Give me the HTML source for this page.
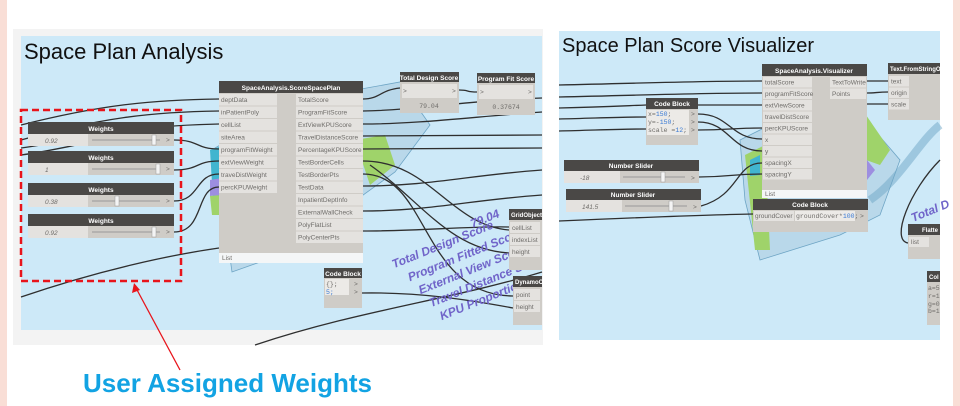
<!DOCTYPE html>
<html><head><meta charset="utf-8"><style>
html,body{margin:0;padding:0;background:#fff;}
body{width:960px;height:406px;overflow:hidden;position:relative;font-family:"Liberation Sans",sans-serif;}
svg{position:absolute;left:0;top:0;}
.h{fill:#4a4846}
.ht{fill:#fff;font-size:6.5px;font-weight:bold;text-anchor:middle}
.b{fill:#cfccc7}
.p{fill:#e4e2df}
.pt{fill:#6f6d6a;font-size:6.5px}
.w{fill:none;stroke:#2f2f2f;stroke-width:1.3}
.pl{fill:#7064c9;font-size:12px;font-weight:bold;font-style:italic}
</style></head><body>
<svg width="960" height="406" viewBox="0 0 960 406">
<rect x="0" y="0" width="7" height="406" fill="#f9ded6"/>
<rect x="953" y="0" width="7" height="406" fill="#f9ded6"/>

<g>
<rect x="13" y="29" width="530" height="316" fill="#f3f3f3"/>
<rect x="21" y="36" width="521" height="294" fill="#cde9f8"/>
<text x="24" y="59" font-size="22" fill="#111">Space Plan Analysis</text>
<g>
<polygon points="215,148 300,100 400,82 430,125 395,172 280,255 232,272" fill="#b9d8ea" stroke="#6ea5c5" stroke-width="0.8"/>
<polygon points="355,140 385,135 395,165 370,185" fill="#9fd36a"/>
<polygon points="210,150 225,145 228,200 213,200" fill="#41b5cf"/>
<polygon points="210,180 222,178 222,195 210,196" fill="#9d8ee0"/>
<polygon points="210,196 222,195 225,215 212,215" fill="#9fd36a"/>
</g>
<g>
<path class="w" d="M21,125 C100,105 150,100 219,99"/>
<path class="w" d="M21,140 C100,118 150,112 219,111"/>
<path class="w" d="M21,148 C80,140 120,126 219,124"/>
<path class="w" d="M21,155 C60,150 100,138 130,137"/>
<path class="w" d="M174,140 C200,140 195,149 219,149"/>
<path class="w" d="M174,170 C200,170 195,161 219,161"/>
<path class="w" d="M174,201 C200,201 195,174 219,174"/>
<path class="w" d="M174,232 C205,232 195,187 219,187"/>
<path class="w" d="M21,297 C100,270 170,255 219,248"/>
<path class="w" d="M255,345 C360,310 450,300 542,272"/>
<path class="w" d="M363,99 C380,99 380,90 400,88"/>
<path class="w" d="M459,90 C470,90 465,92 477,92"/>
<path class="w" d="M363,111 C420,110 470,100 542,98"/>
<path class="w" d="M363,124 C420,124 480,116 542,112"/>
<path class="w" d="M363,136 C420,136 480,135 542,135"/>
<path class="w" d="M363,149 C420,149 480,148 542,148"/>
<path class="w" d="M363,161 C430,161 450,225 509,230"/>
<path class="w" d="M363,174 C430,174 420,295 513,296"/>
<path class="w" d="M363,186 C430,186 470,175 542,170"/>
<path class="w" d="M363,211 C430,211 470,200 542,195"/>
<path class="w" d="M363,231 C420,231 470,226 509,227"/>
<path class="w" d="M362,293 C420,292 470,300 513,308"/>
<path class="w" d="M370,165 C420,200 450,250 509,253"/>
</g>
<g transform="rotate(-22 470 270)">
<text class="pl" x="400" y="240">Total Design Score</text>
<text class="pl" x="488" y="232">79.04</text>
<text class="pl" x="410" y="258">Program Fitted Score</text>
<text class="pl" x="415" y="274">External View Score</text>
<text class="pl" x="420" y="290">Travel Distance S</text>
<text class="pl" x="425" y="306">KPU Proportion</text>
</g>
<g>
<rect x="219" y="81" width="144" height="182" class="b"/>
<rect x="219" y="81" width="144" height="12" class="h"/>
<text x="291" y="90" class="ht">SpaceAnalysis.ScoreSpacePlan</text>
<g>
<rect x="219" y="94" width="58" height="11.5" class="p"/><text x="221" y="102" class="pt">deptData</text>
<rect x="219" y="106.5" width="58" height="11.5" class="p"/><text x="221" y="114.5" class="pt">inPatientPoly</text>
<rect x="219" y="119" width="58" height="11.5" class="p"/><text x="221" y="127" class="pt">cellList</text>
<rect x="219" y="131.5" width="58" height="11.5" class="p"/><text x="221" y="139.5" class="pt">siteArea</text>
<rect x="219" y="144" width="58" height="11.5" class="p"/><text x="221" y="152" class="pt">programFitWeight</text>
<rect x="219" y="156.5" width="58" height="11.5" class="p"/><text x="221" y="164.5" class="pt">extViewWeight</text>
<rect x="219" y="169" width="58" height="11.5" class="p"/><text x="221" y="177" class="pt">traveDistWeight</text>
<rect x="219" y="181.5" width="58" height="11.5" class="p"/><text x="221" y="189.5" class="pt">percKPUWeight</text>
</g>
<g>
<rect x="296" y="94" width="67" height="11.5" class="p"/><text x="298" y="102" class="pt">TotalScore</text>
<rect x="296" y="106.5" width="67" height="11.5" class="p"/><text x="298" y="114.5" class="pt">ProgramFitScore</text>
<rect x="296" y="119" width="67" height="11.5" class="p"/><text x="298" y="127" class="pt">ExtViewKPUScore</text>
<rect x="296" y="131.5" width="67" height="11.5" class="p"/><text x="298" y="139.5" class="pt">TravelDistanceScore</text>
<rect x="296" y="144" width="67" height="11.5" class="p"/><text x="298" y="152" class="pt">PercentageKPUScore</text>
<rect x="296" y="156.5" width="67" height="11.5" class="p"/><text x="298" y="164.5" class="pt">TestBorderCells</text>
<rect x="296" y="169" width="67" height="11.5" class="p"/><text x="298" y="177" class="pt">TestBorderPts</text>
<rect x="296" y="181.5" width="67" height="11.5" class="p"/><text x="298" y="189.5" class="pt">TestData</text>
<rect x="296" y="194" width="67" height="11.5" class="p"/><text x="298" y="202" class="pt">InpatientDeptInfo</text>
<rect x="296" y="206.5" width="67" height="11.5" class="p"/><text x="298" y="214.5" class="pt">ExternalWallCheck</text>
<rect x="296" y="219" width="67" height="11.5" class="p"/><text x="298" y="227" class="pt">PolyFlatList</text>
<rect x="296" y="231.5" width="67" height="11.5" class="p"/><text x="298" y="239.5" class="pt">PolyCenterPts</text>
</g>
<rect x="219" y="253" width="144" height="10" fill="#f4f6f7"/><text x="222" y="260" class="pt" font-size="5.5">List</text>
</g>
<g>
<rect x="28" y="122" width="146" height="12" class="h"/><text x="101" y="131" class="ht">Weights</text>
<rect x="28" y="134" width="146" height="12" class="b"/><rect x="28" y="134" width="60" height="12" class="p"/>
<text x="45" y="143" class="pt" font-style="italic">0.92</text>
<line x1="92" y1="140" x2="160" y2="140" stroke="#999"/><rect x="152" y="135" width="4" height="10" fill="#f4f4f4" stroke="#999" stroke-width=".5"/>
<text x="166" y="142" class="pt">&gt;</text></g>
<g>
<rect x="28" y="151" width="146" height="12" class="h"/><text x="101" y="160" class="ht">Weights</text>
<rect x="28" y="163" width="146" height="12" class="b"/><rect x="28" y="163" width="60" height="12" class="p"/>
<text x="45" y="172" class="pt" font-style="italic">1</text>
<line x1="92" y1="169" x2="160" y2="169" stroke="#999"/><rect x="156" y="164" width="4" height="10" fill="#f4f4f4" stroke="#999" stroke-width=".5"/>
<text x="166" y="171" class="pt">&gt;</text></g>
<g>
<rect x="28" y="183" width="146" height="12" class="h"/><text x="101" y="192" class="ht">Weights</text>
<rect x="28" y="195" width="146" height="12" class="b"/><rect x="28" y="195" width="60" height="12" class="p"/>
<text x="45" y="204" class="pt" font-style="italic">0.38</text>
<line x1="92" y1="201" x2="160" y2="201" stroke="#999"/><rect x="115" y="196" width="4" height="10" fill="#f4f4f4" stroke="#999" stroke-width=".5"/>
<text x="166" y="203" class="pt">&gt;</text></g>
<g>
<rect x="28" y="214" width="146" height="12" class="h"/><text x="101" y="223" class="ht">Weights</text>
<rect x="28" y="226" width="146" height="12" class="b"/><rect x="28" y="226" width="60" height="12" class="p"/>
<text x="45" y="235" class="pt" font-style="italic">0.92</text>
<line x1="92" y1="232" x2="160" y2="232" stroke="#999"/><rect x="152" y="227" width="4" height="10" fill="#f4f4f4" stroke="#999" stroke-width=".5"/>
<text x="166" y="234" class="pt">&gt;</text></g>
<g>
<rect x="400" y="72" width="59" height="41" class="b"/><rect x="400" y="72" width="59" height="10" class="h"/>
<text x="429" y="80" class="ht" font-size="6">Total Design Score</text>
<rect x="402" y="84" width="55" height="14" class="p"/><text x="403" y="93" class="pt">&gt;</text><text x="452" y="93" class="pt">&gt;</text>
<text x="429" y="108" class="pt" text-anchor="middle" font-family="Liberation Mono" font-size="5.5">79.04</text></g>
<g>
<rect x="477" y="73" width="58" height="42" class="b"/><rect x="477" y="73" width="58" height="10" class="h"/>
<text x="506" y="81" class="ht" font-size="6">Program Fit Score</text>
<rect x="479" y="85" width="54" height="14" class="p"/><text x="480" y="94" class="pt">&gt;</text><text x="528" y="94" class="pt">&gt;</text>
<text x="506" y="109" class="pt" text-anchor="middle" font-family="Liberation Mono" font-size="5.5">0.37674</text></g>
<g>
<rect x="324" y="268" width="38" height="40" class="b"/><rect x="324" y="268" width="38" height="10" class="h"/>
<text x="343" y="276" class="ht" font-size="6">Code Block</text>
<rect x="325" y="279" width="24" height="16" fill="#eceae7"/>
<text x="326" y="286" class="pt" font-family="Liberation Mono">{};</text><text x="326" y="294" fill="#3a7bd5" font-size="6.5" font-family="Liberation Mono">5;</text>
<text x="354" y="286" class="pt">&gt;</text><text x="354" y="294" class="pt">&gt;</text></g>
<g>
<rect x="509" y="209" width="33" height="61" class="b"/><rect x="509" y="209" width="33" height="11" class="h"/>
<text x="511" y="217" fill="#fff" font-size="6" font-weight="bold">GridObject</text>
<rect x="510" y="222" width="30" height="11" class="p"/><text x="512" y="230" class="pt">cellList</text>
<rect x="510" y="234" width="30" height="11" class="p"/><text x="512" y="242" class="pt">indexList</text>
<rect x="510" y="246" width="30" height="11" class="p"/><text x="512" y="254" class="pt">height</text></g>
<g>
<rect x="513" y="276" width="29" height="49" class="b"/><rect x="513" y="276" width="29" height="11" class="h"/>
<text x="515" y="284" fill="#fff" font-size="6" font-weight="bold">DynamoO</text>
<rect x="514" y="289" width="26" height="11" class="p"/><text x="516" y="297" class="pt">point</text>
<rect x="514" y="301" width="26" height="11" class="p"/><text x="516" y="309" class="pt">height</text></g>
</g>
<rect x="21" y="110" width="160" height="171" fill="none" stroke="#e8141b" stroke-width="2.5" stroke-dasharray="7,4"/>
<g>
<line x1="180" y1="370" x2="136" y2="288" stroke="#e8141b" stroke-width="1.3"/>
<polygon points="134,283 132,293 140,290" fill="#e8141b"/>
</g>
<text x="83" y="392" font-size="26" font-weight="bold" fill="#12a3e3">User Assigned Weights</text>

<g>
<rect x="559" y="31" width="381" height="309" fill="#cde9f8"/>
<text x="562" y="52" font-size="20" fill="#111">Space Plan Score Visualizer</text>
<g>
<polygon points="740,140 770,125 870,125 900,160 880,215 840,235 760,260 745,200" fill="#b9d8ea" stroke="#6ea5c5" stroke-width="0.8"/>
<polygon points="745,155 765,145 770,250 755,250" fill="#9fd36a"/>
<polygon points="866,115 890,150 880,165 866,160" fill="#9fd36a"/>
<polygon points="867,160 875,170 867,180" fill="#9d8ee0"/>
<polygon points="750,160 760,155 760,175 750,176" fill="#41b5cf"/>
<path d="M870,200 C900,180 920,140 940,125" fill="none" stroke="#6ea5c5" stroke-width="8" opacity=".5"/>
</g>
<g>
<path class="w" d="M559,85 C650,83 700,81 762,81"/>
<path class="w" d="M559,97 C650,95 700,93 762,93"/>
<path class="w" d="M559,108 C600,107 620,106 646,105"/>
<path class="w" d="M559,119 C600,118 620,117 646,117"/>
<path class="w" d="M559,131 C600,130 620,129 646,129"/>
<path class="w" d="M698,105 C720,105 710,105 762,105"/>
<path class="w" d="M698,114 C730,114 730,139 762,139"/>
<path class="w" d="M698,122 C730,122 730,151 762,151"/>
<path class="w" d="M698,130 C730,130 730,128 762,128"/>
<path class="w" d="M699,177 C730,177 730,174 762,174"/>
<path class="w" d="M701,206 C740,195 735,163 762,163"/>
<path class="w" d="M559,221 C650,217 700,215 753,214"/>
<path class="w" d="M867,81 C875,81 878,81 888,81"/>
<path class="w" d="M867,93 C875,93 878,92 888,92"/>
<path class="w" d="M867,104 C875,104 878,104 888,104"/>
<path class="w" d="M940,160 C910,190 890,240 908,243"/>
</g>
<g>
<rect x="762" y="64" width="105" height="126" class="b"/><rect x="762" y="64" width="105" height="12" class="h"/>
<text x="814" y="73" class="ht">SpaceAnalysis.Visualizer</text>
<rect x="763" y="77" width="49" height="10.5" class="p"/><text x="765" y="84.5" class="pt">totalScore</text>
<rect x="763" y="88.5" width="49" height="10.5" class="p"/><text x="765" y="96" class="pt">programFitScore</text>
<rect x="763" y="100" width="49" height="10.5" class="p"/><text x="765" y="107.5" class="pt">extViewScore</text>
<rect x="763" y="111.5" width="49" height="10.5" class="p"/><text x="765" y="119" class="pt">travelDistScore</text>
<rect x="763" y="123" width="49" height="10.5" class="p"/><text x="765" y="130.5" class="pt">percKPUScore</text>
<rect x="763" y="134.5" width="49" height="10.5" class="p"/><text x="765" y="142" class="pt">x</text>
<rect x="763" y="146" width="49" height="10.5" class="p"/><text x="765" y="153.5" class="pt">y</text>
<rect x="763" y="157.5" width="49" height="10.5" class="p"/><text x="765" y="165" class="pt">spacingX</text>
<rect x="763" y="169" width="49" height="10.5" class="p"/><text x="765" y="176.5" class="pt">spacingY</text>
<rect x="830" y="77" width="36" height="10.5" class="p"/><text x="832" y="84.5" class="pt">TextToWrite</text>
<rect x="830" y="88.5" width="36" height="10.5" class="p"/><text x="832" y="96" class="pt">Points</text>
<rect x="762" y="190" width="105" height="8" fill="#f4f6f7"/><text x="765" y="196" class="pt" font-size="5">List</text>
</g>
<g>
<rect x="888" y="63" width="52" height="57" class="b"/><rect x="888" y="63" width="52" height="11" class="h"/>
<text x="890" y="71" fill="#fff" font-size="6" font-weight="bold">Text.FromStringO</text>
<rect x="889" y="76" width="20" height="10.5" class="p"/><text x="891" y="83.5" class="pt">text</text>
<rect x="889" y="87.5" width="20" height="10.5" class="p"/><text x="891" y="95" class="pt">origin</text>
<rect x="889" y="99" width="20" height="10.5" class="p"/><text x="891" y="106.5" class="pt">scale</text></g>
<g>
<rect x="646" y="98" width="52" height="47" class="b"/><rect x="646" y="98" width="52" height="11" class="h"/>
<text x="672" y="106" class="ht" font-size="6">Code Block</text>
<rect x="647" y="110" width="42" height="25" fill="#eceae7"/>
<text x="648" y="116" class="pt" font-family="Liberation Mono" font-size="6">x=<tspan fill="#3a7bd5">150</tspan>;</text>
<text x="648" y="124" class="pt" font-family="Liberation Mono" font-size="6">y=-<tspan fill="#3a7bd5">150</tspan>;</text>
<text x="648" y="132" class="pt" font-family="Liberation Mono" font-size="6">scale =<tspan fill="#3a7bd5">12</tspan>;</text>
<text x="691" y="116" class="pt">&gt;</text><text x="691" y="124" class="pt">&gt;</text><text x="691" y="132" class="pt">&gt;</text></g>
<g>
<rect x="564" y="160" width="135" height="11" class="h"/><text x="631" y="168" class="ht">Number Slider</text>
<rect x="564" y="171" width="135" height="12" class="b"/><rect x="564" y="171" width="56" height="12" class="p"/>
<text x="580" y="180" class="pt" font-style="italic">-18</text>
<line x1="623" y1="177" x2="685" y2="177" stroke="#999"/><rect x="661" y="172" width="4" height="10" fill="#f4f4f4" stroke="#999" stroke-width=".5"/>
<text x="691" y="180" class="pt">&gt;</text></g>
<g>
<rect x="566" y="189" width="135" height="11" class="h"/><text x="633" y="197" class="ht">Number Slider</text>
<rect x="566" y="200" width="135" height="12" class="b"/><rect x="566" y="200" width="56" height="12" class="p"/>
<text x="582" y="209" class="pt" font-style="italic">141.5</text>
<line x1="625" y1="206" x2="687" y2="206" stroke="#999"/><rect x="669" y="201" width="4" height="10" fill="#f4f4f4" stroke="#999" stroke-width=".5"/>
<text x="693" y="209" class="pt">&gt;</text></g>
<g>
<rect x="753" y="199" width="115" height="33" class="b"/><rect x="753" y="199" width="115" height="11" class="h"/>
<text x="810" y="207" class="ht" font-size="6">Code Block</text>
<rect x="754" y="211" width="40" height="10" class="p"/><text x="755" y="218" class="pt">groundCover</text>
<rect x="795" y="211" width="60" height="10" fill="#eceae7"/>
<text x="796" y="218" class="pt" font-family="Liberation Mono" font-size="6">groundCover*<tspan fill="#3a7bd5">100</tspan>;</text>
<text x="860" y="218" class="pt">&gt;</text></g>
<g>
<rect x="908" y="224" width="32" height="35" class="b"/><rect x="908" y="224" width="32" height="11" class="h"/>
<text x="922" y="232" fill="#fff" font-size="6" font-weight="bold">Flatte</text>
<rect x="909" y="237" width="20" height="10" class="p"/><text x="911" y="244" class="pt">list</text></g>
<text x="913" y="222" class="pl" transform="rotate(-22 913 222)">Total D</text>
<g>
<rect x="927" y="271" width="13" height="54" class="b"/><rect x="927" y="271" width="13" height="11" class="h"/>
<text x="929" y="279" fill="#fff" font-size="6" font-weight="bold">Col</text>
<text x="928" y="290" class="pt" font-family="Liberation Mono" font-size="5">a=5</text>
<text x="928" y="298" class="pt" font-family="Liberation Mono" font-size="5">r=1</text>
<text x="928" y="306" class="pt" font-family="Liberation Mono" font-size="5">g=0</text>
<text x="928" y="313" class="pt" font-family="Liberation Mono" font-size="5">b=1</text></g>
</g>
</svg>
</body></html>
